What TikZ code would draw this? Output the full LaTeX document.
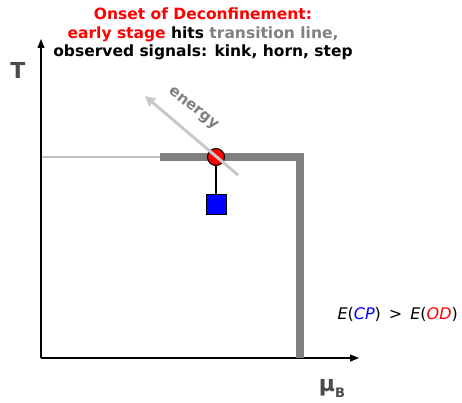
\documentclass[tikz,border=0pt]{standalone}
\usepackage{fontspec}
\setmainfont{DejaVu Sans}
\usetikzlibrary{arrows.meta}
\definecolor{tgray}{RGB}{128,128,128}
\definecolor{lgray}{RGB}{190,190,190}
\definecolor{egray}{RGB}{200,200,200}
\definecolor{redc}{RGB}{255,0,0}
\definecolor{bluec}{RGB}{0,0,255}
\definecolor{labgray}{RGB}{75,75,75}
\begin{document}
\begin{tikzpicture}[x=1pt,y=-1pt,
  axis/.style={line width=1.2pt,-{Triangle[length=9pt,width=7pt]}},
  title/.style={font=\bfseries\fontsize{15.5}{18.5}\selectfont,align=center},
  phase/.style={line width=8pt,tgray},
  conn/.style={line width=1.5pt,black}]
\useasboundingbox (0,0) rectangle (462,403);
\coordinate (O) at (41,358);
\coordinate (ytip) at (41,39);
\coordinate (xtip) at (359,358);
\draw[axis] (O) -- (ytip);
\draw[axis] (O) -- (xtip);
\node[title] (ttl) at (203,34) {\textcolor{redc}{Onset of Deconfinement:}\\
\textcolor{redc}{early stage} hits \textcolor{tgray}{transition line,}\\
observed signals: kink, horn, step};
\node[font=\bfseries\fontsize{22}{22}\selectfont,text=labgray] (T) at (18,70) {T};
\node[font=\bfseries\fontsize{22}{22}\selectfont,text=labgray] (mu) at (332,388) {μ\raisebox{-6pt}{\fontsize{13}{13}\selectfont B}};
\coordinate (l0) at (42,157);
\coordinate (l1) at (160,157);
\coordinate (c) at (300,157);
\coordinate (b) at (300,358);
\draw[line width=2pt,lgray] (l0) -- (l1);
\draw[phase,line join=miter] (l1) -- (c) -- (b);
\node[draw=black,line width=1pt,fill=bluec,minimum size=20pt,inner sep=0pt] (sq) at (216,204) {};
\node[draw=black,line width=1pt,fill=redc,circle,minimum size=17pt,inner sep=0pt] (rc) at (216,157) {};
\draw[conn] (rc) -- (sq);
\coordinate (e0) at (238,175);
\coordinate (e1) at (145,96);
\draw[line width=3pt,egray,-{Triangle[length=10pt,width=10pt]}] (e0) -- (e1);
\node[font=\bfseries\fontsize{15}{15}\selectfont,text=tgray,rotate=-38] (en) at (193,109) {energy};
\node[font=\fontsize{16}{16}\selectfont,anchor=west] (eq) at (334,314) {\textit{E}(\textit{\textcolor{bluec}{CP}})\hspace{8pt}\textgreater\hspace{8pt}\textit{E}(\textit{\textcolor{redc}{OD}})};
\end{tikzpicture}
\end{document}
